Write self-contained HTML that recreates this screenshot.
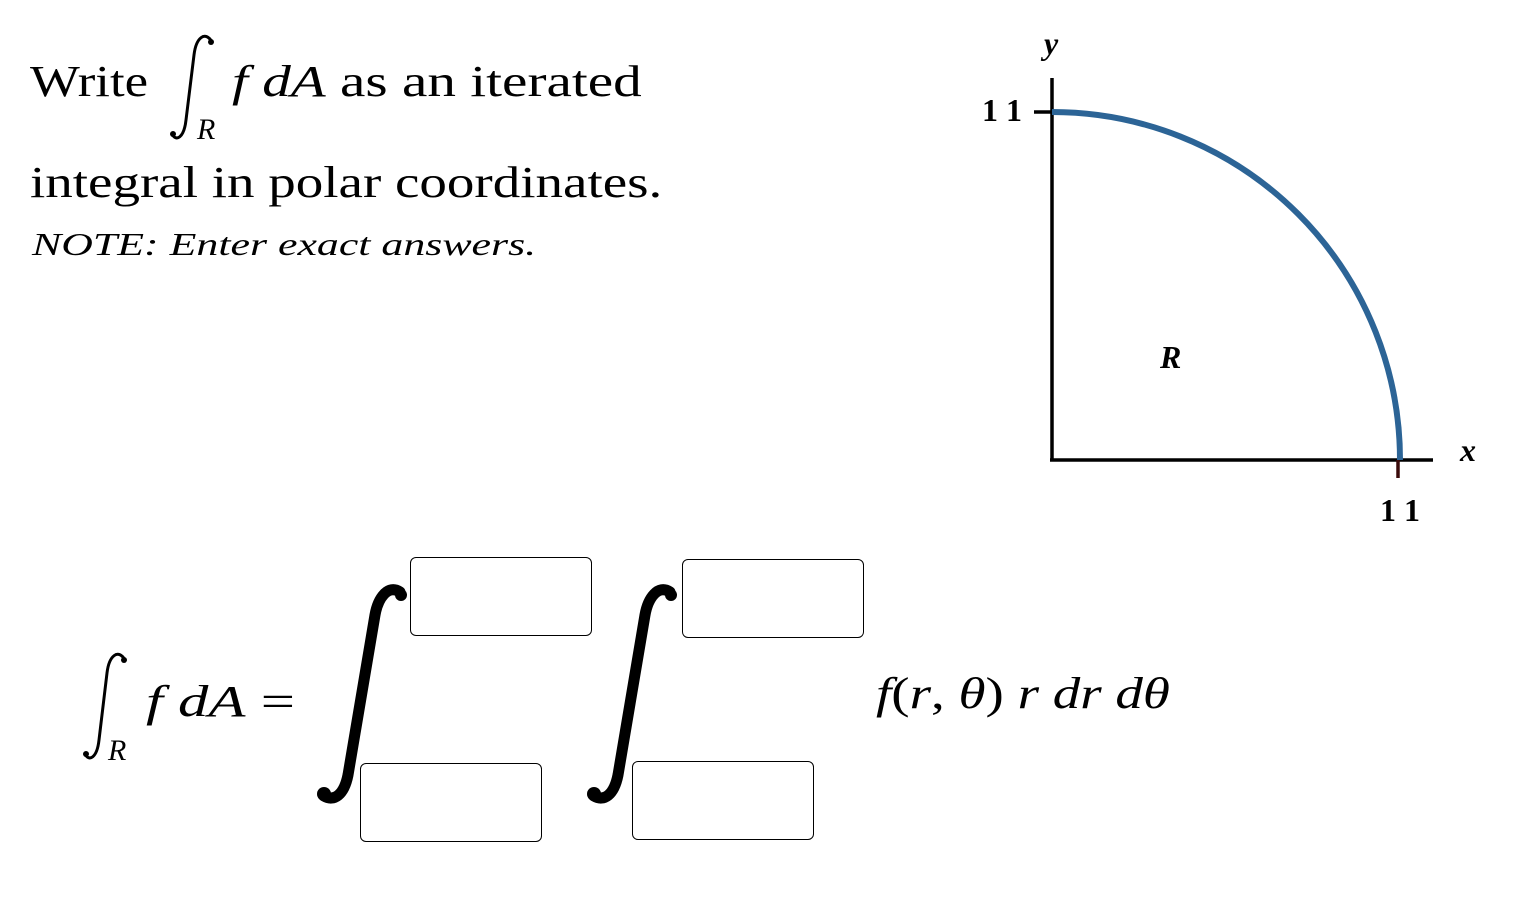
<!DOCTYPE html>
<html><head><meta charset="utf-8"><style>
body{margin:0;width:1520px;height:922px;background:#fff;overflow:hidden;position:relative;font-family:"Liberation Serif",serif;color:#000}
.a{position:absolute;white-space:nowrap;transform-origin:0 0}
.box{position:absolute;width:180px;height:77px;border:1.5px solid #000;border-radius:6px;background:#fff}
i{font-style:italic}
</style></head><body>
<div class="a" style="left:30px;top:56px;font-size:44px;transform:scaleX(1.2)">Write</div>
<div class="a" style="left:197px;top:113px;font-size:30px"><i>R</i></div>
<div class="a" style="left:232px;top:56px;font-size:44px;transform:scaleX(1.3)"><i>f dA</i> as an iterated</div>
<div class="a" style="left:30px;top:157px;font-size:44px;transform:scaleX(1.25)">integral in polar coordinates.</div>
<div class="a" style="left:32px;top:226px;font-size:32px;font-style:italic;transform:scaleX(1.37)">NOTE: Enter exact answers.</div>

<svg class="a" style="left:0;top:0" width="1520" height="922">
<line x1="1052" y1="78" x2="1052" y2="461" stroke="#000" stroke-width="3.5"/>
<line x1="1050" y1="460" x2="1433" y2="460" stroke="#000" stroke-width="3.5"/>
<line x1="1034" y1="112" x2="1052" y2="112" stroke="#000" stroke-width="3.5"/>
<line x1="1398" y1="460" x2="1398" y2="478" stroke="#3a0a0a" stroke-width="3.5"/>
<path d="M1052 112 A348 348 0 0 1 1400 460" fill="none" stroke="#2c6496" stroke-width="6"/>
<g font-family="Liberation Serif,serif" font-weight="bold" font-size="32">
<text x="1044" y="54" font-style="italic">y</text>
<text x="982" y="121" textLength="40">11</text>
<text x="1460" y="461" font-style="italic">x</text>
<text x="1380" y="521" textLength="40">11</text>
<text x="1160" y="368" font-style="italic">R</text>
</g>
<g fill="none" stroke="#000" stroke-linecap="round">
<path d="M212,42 C205,30 196,38 194,55 L186,120 C184,138 176,142 172,134" stroke-width="3"/>
<path d="M125,660 C118,648 109,656 107,673 L99,740 C97,758 89,762 85,754" stroke-width="3"/>
<path d="M400,592 C388,584 378,598 375,615 L348,775 C344,795 334,802 324,796" stroke-width="11"/>
<path d="M670,592 C658,584 648,598 645,615 L618,775 C614,795 604,802 594,796" stroke-width="11"/>
</g>
<g fill="#000">
<circle cx="211" cy="42" r="3"/><circle cx="173" cy="134" r="3"/>
<circle cx="124" cy="660" r="3"/><circle cx="86" cy="754" r="3"/>
<circle cx="401" cy="595" r="6"/><circle cx="324" cy="794" r="7"/>
<circle cx="671" cy="595" r="6"/><circle cx="594" cy="794" r="7"/>
</g>
</svg>
<div class="a" style="left:108px;top:734px;font-size:30px"><i>R</i></div>
<div class="a" style="left:146px;top:676px;font-size:44px;transform:scaleX(1.38)"><i>f dA</i> =</div>
<div class="box" style="left:410px;top:557px"></div>
<div class="box" style="left:360px;top:763px"></div>
<div class="box" style="left:682px;top:559px"></div>
<div class="box" style="left:632px;top:761px"></div>
<div class="a" style="left:876px;top:668px;font-size:44px;transform:scaleX(1.25)"><i>f</i>(<i>r</i>, <i>θ</i>) <i>r dr dθ</i></div>
</body></html>
